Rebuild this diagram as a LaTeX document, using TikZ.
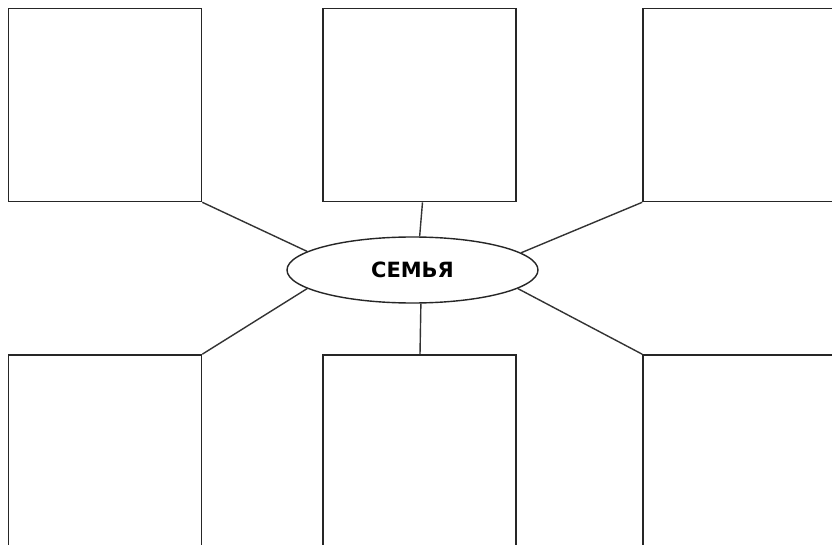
\documentclass[tikz,border=0pt]{standalone}
\usepackage{fontspec}
\setmainfont{DejaVu Sans}
\usetikzlibrary{shapes.geometric}
\tikzset{
  box/.style={draw=black!85, line width=1.6pt, fill=white, rectangle, inner sep=0pt, minimum width=193pt, minimum height=193pt},
  hub/.style={draw=black!85, line width=1.4pt, fill=white, ellipse, inner sep=0pt, minimum width=251pt, minimum height=66pt, font=\bfseries\fontsize{21}{24}\selectfont},
  link/.style={draw=black!80, line width=1.4pt}
}
\begin{document}
\begin{tikzpicture}[x=1pt,y=-1pt]
\useasboundingbox (0,0) rectangle (832,545);
\clip (0,0) rectangle (832,545);
\fill[white] (0,0) rectangle (832,545);
\node[box] (tl) at (105,105) {};
\node[box] (tm) at (419.5,105) {};
\node[box] (tr) at (739.5,105) {};
\node[box] (bl) at (105,451.5) {};
\node[box] (bm) at (419.5,451.5) {};
\node[box] (br) at (739.5,451.5) {};
\node[hub] (e) at (412.5,270) {СЕМЬЯ};
\draw[link] (tl.south east) -- (e.170);
\draw[link] ([xshift=3pt]tm.south) -- (e.78);
\draw[link] (tr.south west) -- (e.9.5);
\draw[link] (bl.north east) -- (e.-170);
\draw[link] ([xshift=0.5pt]bm.north) -- (e.-76);
\draw[link] (br.north west) -- (e.-10);
\end{tikzpicture}
\end{document}
